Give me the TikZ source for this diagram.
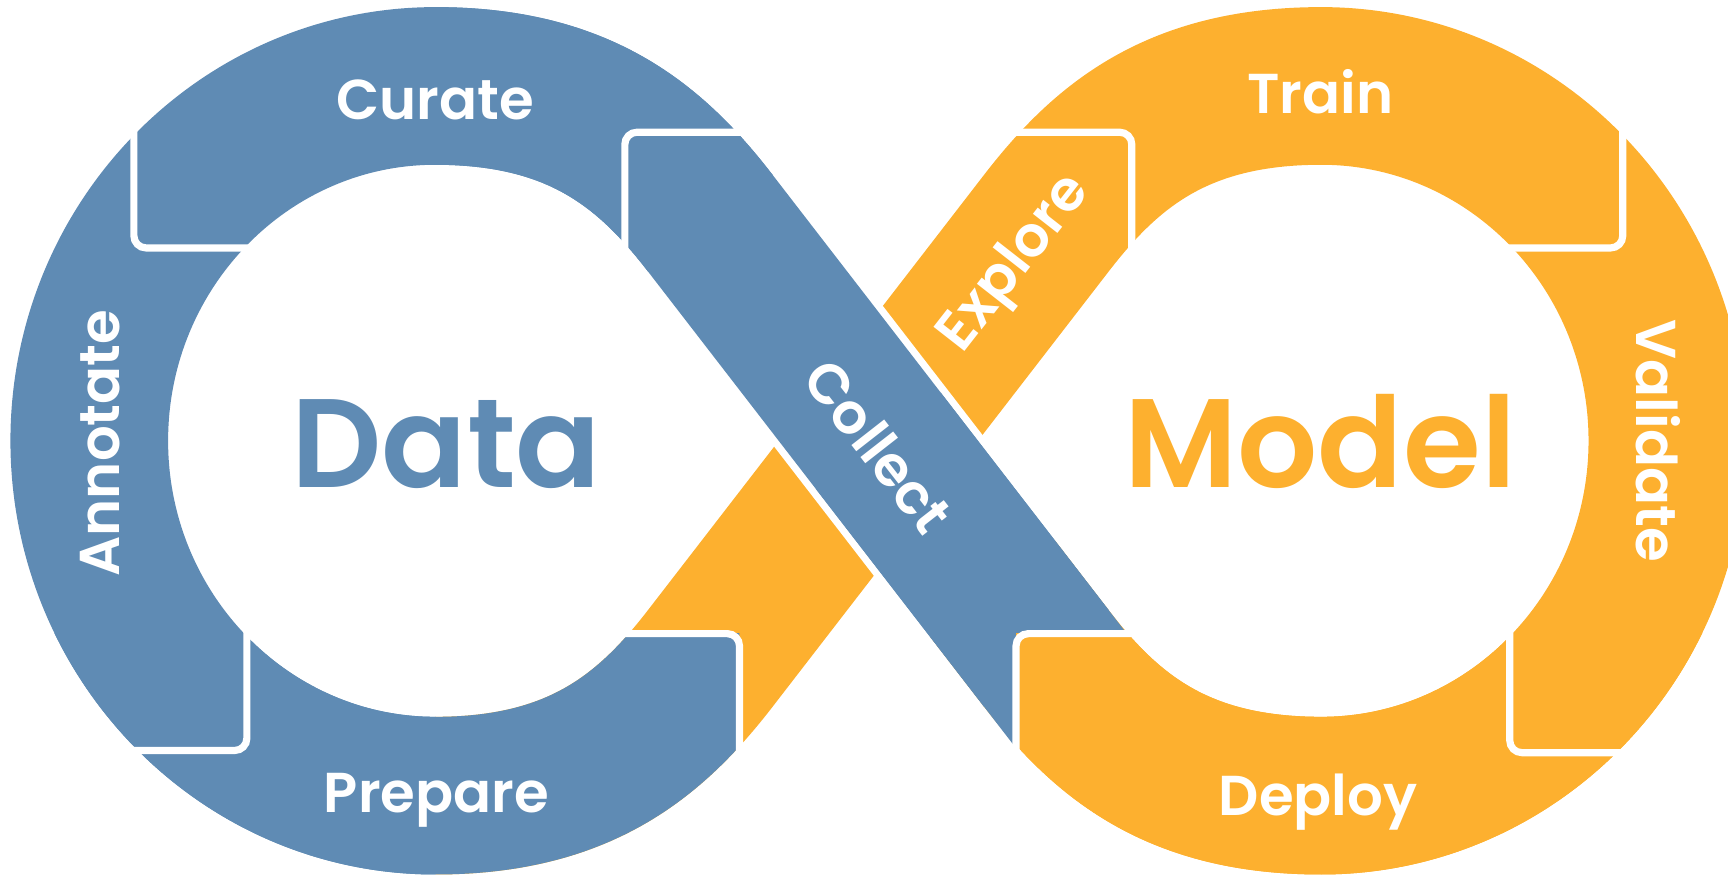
\documentclass[tikz,border=0pt]{standalone}
\usepackage{fontspec}
\setmainfont{Poppins}[BoldFont={* SemiBold}]
\definecolor{dblue}{RGB}{95,139,180}
\definecolor{morange}{RGB}{253,176,47}
\tikzset{
  band/.style={line width=1.43cm, line cap=butt, line join=round},
  gapband/.style={line width=1.56cm, line cap=butt, draw=white},
  sep/.style={draw=white, line width=0.065cm, rounded corners=0.11cm},
  lbl/.style={text=white, font=\bfseries\fontsize{14.5}{16}\selectfont, inner sep=0pt},
  big/.style={inner sep=0pt, font=\bfseries\fontsize{32.5}{36}\selectfont}
}
\begin{document}
\begin{tikzpicture}[x=0.01cm,y=-0.01cm]
\useasboundingbox (0,0) rectangle (1568,795);
\clip (0,0) rectangle (1568,795);
\coordinate (C) at (797,400);
\coordinate (S1) at (644.5,202.5);
\coordinate (S2) at (644.5,597.5);
\coordinate (S3) at (949.5,202.5);
\coordinate (S4) at (949.5,597.5);
\coordinate (TL) at (395,78);
\coordinate (L) at (81,400);
\coordinate (BL) at (395,722);
\coordinate (TR) at (1199,78);
\coordinate (R) at (1513,400);
\coordinate (BR) at (1199,722);
\coordinate (E2) at (705.5,518.5);
\coordinate (E4) at (888.5,518.5);
\coordinate (E4b) at (989.2,648.9);
\coordinate (G1) at (693.3,265.7);
\coordinate (G2) at (900.7,534.3);
% orange band (right lobe + Explore strand)
\draw[band, draw=morange] (BL) .. controls (525,722) and (589.6,668.6) .. (S2) -- (C) -- (S3)
  .. controls (1004.4,131.4) and (1069,78) .. (TR)
  .. controls (1372,78) and (1513,222) .. (R)
  .. controls (1513,578) and (1372,722) .. (BR)
  .. controls (1069,722) and (1004.4,668.6) .. (S4) -- (E4);
% blue left lobe
\draw[band, draw=dblue] (S1) .. controls (589.6,131.4) and (525,78) .. (TL)
  .. controls (222,78) and (81,222) .. (L)
  .. controls (81,578) and (222,722) .. (BL);
% Prepare tab
\begin{scope}
\clip (0,575) rectangle (671,800);
\draw[band, draw=dblue] (L) .. controls (81,578) and (222,722) .. (BL)
  .. controls (525,722) and (589.6,668.6) .. (S2) -- (E2);
\end{scope}
% Collect strand over the crossing
\draw[gapband] (G1) -- (G2);
\draw[band, draw=dblue] (TL) .. controls (525,78) and (589.6,131.4) .. (S1) -- (S4);
\begin{scope}
\clip (0,0) -- (1600,0) -- (1600,575) -- (922,575) -- (922,800) -- (0,800) -- cycle;
\draw[band, draw=dblue] (C) -- (S4) -- (E4b);
\end{scope}
% Deploy tab
\begin{scope}
\clip (922,575) rectangle (1600,800);
\draw[band, draw=morange] (E4) -- (S4) .. controls (1004.4,668.6) and (1069,722) .. (BR)
  .. controls (1372,722) and (1513,578) .. (R);
\end{scope}
% separators
\draw[sep] (121.5,95) -- (121.5,225) -- (250,225);
\draw[sep] (700,120) -- (567,120) -- (567,260);
\draw[sep] (224,550) -- (224,681) -- (95,681);
\draw[sep] (540,575) -- (671,575) -- (671,705);
\draw[sep] (900,120) -- (1027,120) -- (1027,255);
\draw[sep] (1472.5,95) -- (1472.5,225) -- (1344,225);
\draw[sep] (1370,550) -- (1370,683) -- (1499,683);
\draw[sep] (1054,575) -- (922,575) -- (922,705);
% labels
\node[lbl, anchor=base] (curate) at (395,108) {Curate};
\node[lbl, anchor=base] (train) at (1198,103) {Train};
\node[lbl, anchor=base] (prepare) at (396,737) {Prepare};
\node[lbl, anchor=base] (deploy) at (1196,740) {Deploy};
\node[lbl, rotate=90] (annotate) at (91,402) {Annotate};
\node[lbl, rotate=-90] (validate) at (1505,400) {Validate};
\node[lbl, rotate=-52] (collect) at (797,405) {Collect};
\node[lbl, rotate=52] (explore) at (922,240) {Explore};
\node[big, text=dblue, anchor=base] (data) at (405,442) {Data};
\node[big, text=morange, anchor=base] (model) at (1198,442) {Model};
\end{tikzpicture}
\end{document}
